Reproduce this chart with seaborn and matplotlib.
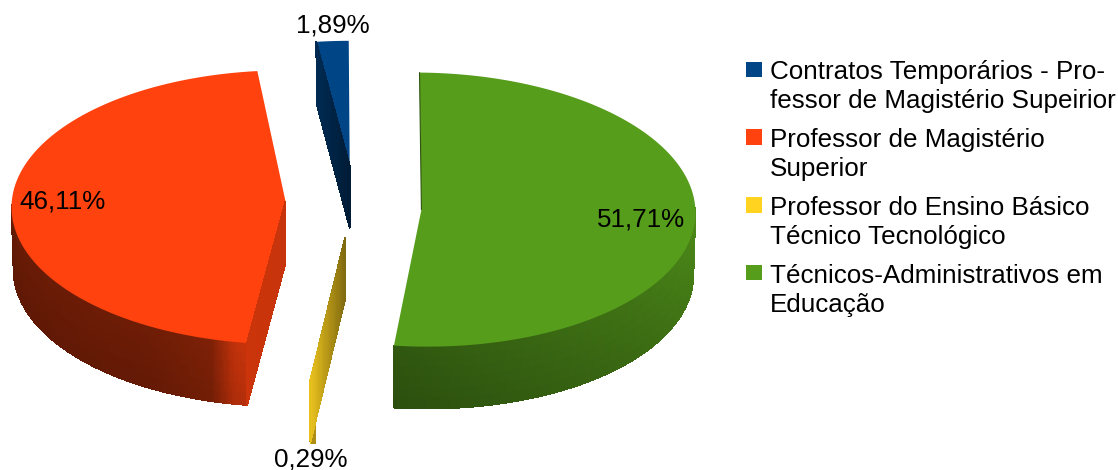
import numpy as np
import seaborn as sns
import matplotlib.pyplot as plt
from matplotlib.collections import PolyCollection
from matplotlib.patches import Rectangle

LABELS = [
    "Contratos Temporários - Pro-\nfessor de Magistério Supeirior",
    "Professor de Magistério\nSuperior",
    "Professor do Ensino Básico\nTécnico Tecnológico",
    "Técnicos-Administrativos em\nEducação",
]
SHARES = [1.89, 46.11, 0.29, 51.71]
SHARE_TEXT = ["1,89%", "46,11%", "0,29%", "51,71%"]
COLORS = ["#004586", "#ff420e", "#ffd320", "#579d1c"]

sns.set_theme(style="white")
plt.rcParams["font.family"] = ["Liberation Sans", "DejaVu Sans"]

# pie layout, in pixels of the figure
CX, CY, RX, RY, DEPTH, EXPLODE = 351, 210, 274, 137, 62, 0.25

# small corrections because the original has a perspective view
NUDGE = [(3, 2), (3, -2), (2, 1), (2, -2)]
APEX_LIFT = [12, 6, 7, 0]
ROTATE = [-0.2, 0.9, 0.1, -0.4]
TILT = [0, 0, 0, 3]

# brightness of the rim, by angle clockwise from the top
RIM_ANGLE = [[0, 360], [188, 191, 196, 210, 270], [0, 360], [90, 130, 186]]
RIM_SHADE = [[0.5, 0.5], [0.8, 0.76, 0.5, 0.44, 0.41], [0.75, 0.75], [0.9, 0.74, 0.56]]
# brightness of the visible cut face, from the centre to the rim
CUT_SHADE = [(0.4, 0.62), (0.78, 0.8), (0.5, 0.92), None]
# which end of the slice has the visible cut face
CUT_END = [0, 0, 1, None]

fig = plt.figure(figsize=(11.18, 4.7), dpi=100)
ax = fig.add_axes([0, 0, 1, 1])
ax.set_xlim(0, 1118)
ax.set_ylim(470, 0)
ax.axis("off")


def shaded(color, k):
    return tuple(np.array(sns.desaturate(color, 1)) * k)


cum = np.cumsum([0] + SHARES) * 3.6
for i, color in enumerate(COLORS):
    t1 = 360 - cum[i + 1] + ROTATE[i]
    t2 = 360 - cum[i] + ROTATE[i]
    mid = np.radians((t1 + t2) / 2)
    cx = CX + EXPLODE * RX * np.sin(mid) + NUDGE[i][0]
    cy = CY - EXPLODE * RY * np.cos(mid) + NUDGE[i][1]
    apex = np.array([cx, cy - APEX_LIFT[i]])

    def rim(t, lower=False):
        a = np.radians(t)
        r = RX - 2 if lower else RX
        return np.array([cx + r * np.sin(a), cy - RY * np.cos(a) + TILT[i] * np.sin(a) + (DEPTH if lower else 0)])

    # outer wall, only the front of the pie can be seen
    lo, hi = max(t1, 88), min(t2, 271)
    if hi > lo:
        steps = np.linspace(lo, hi, max(2, int((hi - lo) * 2) + 1))
        polys, cols = [], []
        for a, b in zip(steps[:-1], steps[1:]):
            k = np.interp((a + b) / 2, RIM_ANGLE[i], RIM_SHADE[i])
            for row in range(6):
                v1, v2 = row / 6, (row + 1) / 6
                pa1, pa2 = rim(a), rim(a, True)
                pb1, pb2 = rim(b), rim(b, True)
                polys.append([pa1 + (pa2 - pa1) * v1, pb1 + (pb2 - pb1) * v1,
                              pb1 + (pb2 - pb1) * v2, pa1 + (pa2 - pa1) * v2])
                cols.append(shaded(color, k * (1 - 0.1 * v2)))
        ax.add_collection(PolyCollection(polys, facecolors=cols, edgecolors=cols, linewidths=0.5,
                                         antialiaseds=False))

    # top face
    arc = rim(np.linspace(t1, t2, 200)).T
    ax.fill(*np.vstack([apex, arc]).T, color=color, lw=0)

    # cut face
    if CUT_END[i] is not None:
        edge = t2 if CUT_END[i] else t1
        top_rim, low_rim = rim(edge), rim(edge, True)
        low_apex = apex + [0, DEPTH]
        polys, cols = [], []
        for s in np.linspace(0, 1, 30)[:-1]:
            e = s + 1 / 29
            polys.append([apex + (top_rim - apex) * s, apex + (top_rim - apex) * e,
                          low_apex + (low_rim - low_apex) * e, low_apex + (low_rim - low_apex) * s])
            cols.append(shaded(color, CUT_SHADE[i][0] + (CUT_SHADE[i][1] - CUT_SHADE[i][0]) * s))
        ax.add_collection(PolyCollection(polys, facecolors=cols, edgecolors=cols, linewidths=0.5,
                                         antialiaseds=False))

    # thin dark edge on the green slice
    if i == 3:
        ax.plot(*np.array([apex, rim(t1 + 360 if t1 < 0 else t1)]).T, color="#2e5510", lw=0.8)

# value labels
for text, x, y in zip(SHARE_TEXT, [333, 63, 311, 641], [26, 202, 459, 219]):
    ax.text(x, y, text, fontsize=18.7, color="black", ha="center", va="center")

# legend
for i, (label, color) in enumerate(zip(LABELS, COLORS)):
    top = 61.5 + i * 67.8
    ax.add_patch(Rectangle((746, top), 16, 15.5, color=color, lw=0))
    ax.text(770, top - 1, label, fontsize=18.75, color="black", ha="left", va="top", linespacing=1.25)

fig.savefig("out.png", dpi=100)
